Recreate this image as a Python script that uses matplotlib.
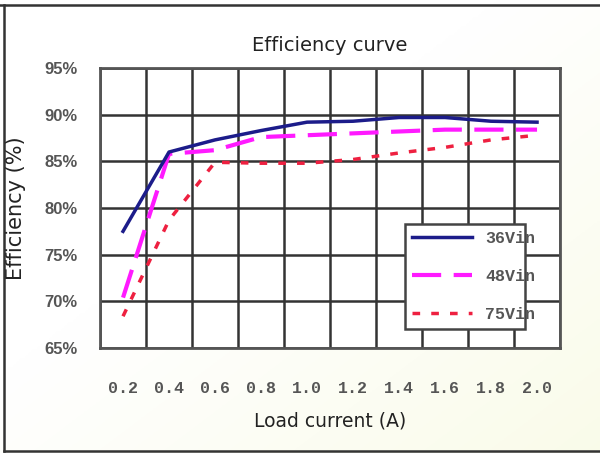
import numpy as np
import matplotlib
matplotlib.use("Agg")
import matplotlib.pyplot as plt
from matplotlib.lines import Line2D

# дані
loads = ["0.2", "0.4", "0.6", "0.8", "1.0", "1.2", "1.4", "1.6", "1.8", "2.0"]
eff_36 = [77.5, 86.0, 87.3, 88.3, 89.2, 89.3, 89.7, 89.7, 89.3, 89.2]
eff_48 = [70.4, 85.8, 86.2, 87.6, 87.8, 88.0, 88.2, 88.4, 88.4, 88.4]
eff_75 = [68.4, 78.7, 84.9, 84.8, 84.8, 85.2, 85.9, 86.5, 87.3, 87.8]
y_ticks = [65, 70, 75, 80, 85, 90, 95]
y_labels = [f"{v}%" for v in y_ticks]

fig = plt.figure(figsize=(6, 4.53), dpi=100)

# легкий жовтуватий градієнт фону (внизу праворуч)
bg = fig.add_axes([0, 0, 1, 1], zorder=-10)
gx, gy = np.meshgrid(np.linspace(0, 1, 200), np.linspace(0, 1, 150))
g = np.clip((gx * 0.6 + gy * 0.6) - 0.5, 0, 1)
col = np.ones((150, 200, 3))
col[..., 2] = 1 - 0.12 * g
col[..., 1] = 1 - 0.02 * g
col[..., 0] = 1 - 0.03 * g
bg.imshow(col, aspect="auto", extent=[0, 1, 0, 1])
bg.axis("off")

# рамка навколо
for xs, ys in [([0.0, 1.0], [0.989, 0.989]), ([0.006, 0.006], [0.004, 0.989]),
               ([0.006, 1.0], [0.004, 0.004])]:
    fig.add_artist(Line2D(xs, ys, color="#333333", lw=1.8, transform=fig.transFigure))

ax = fig.add_axes([0.1667, 0.2318, 0.7667, 0.618])
ax.set_facecolor("white")
x = np.arange(len(loads))

ax.plot(x, eff_36, color="#1c1c8a", lw=2.5, label="36Vin", zorder=5)
ax.plot(x, eff_48, color="#ff1aff", lw=3, dashes=(7, 3), label="48Vin", zorder=4)
ax.plot(x, eff_75, color="#ee2040", lw=2.5, dashes=(2.2, 3.2), label="75Vin", zorder=3)

ax.set_xlim(-0.5, len(loads) - 0.5)
ax.set_ylim(65, 95)
ax.set_xticks(x)
ax.set_xticklabels(loads, family="Liberation Mono", fontweight="bold",
                   fontsize=12, color="#555555")
ax.set_xticks(np.arange(-0.5, len(loads)), minor=True)
ax.set_yticks(y_ticks)
ax.set_yticklabels(y_labels, family="Liberation Sans", fontweight="bold",
                   fontsize=12, color="#555555")
ax.tick_params(axis="x", which="major", length=0, pad=24)
ax.tick_params(axis="x", which="minor", length=0)
ax.tick_params(axis="y", length=0, pad=16)
ax.grid(True, which="minor", axis="x", color="#333333", lw=1.8)
ax.grid(True, which="major", axis="y", color="#333333", lw=1.8)
for s in ax.spines.values():
    s.set_color("#555555")
    s.set_linewidth(2)

ax.set_title("Efficiency curve", fontsize=14, color="#222222", pad=12)
ax.set_xlabel("Load current (A)", fontsize=13.5, color="#222222", labelpad=11)
ax.set_ylabel("Efficiency (%)", fontsize=15, color="#222222", labelpad=13)

leg = ax.legend(loc="lower left", bbox_to_anchor=(0.663, 0.068, 0.261, 0.4),
                mode="expand", fancybox=False, framealpha=1, edgecolor="#444444",
                handlelength=3.6, labelspacing=1.4, borderaxespad=0,
                prop={"family": "Liberation Mono", "size": 12, "weight": "bold"})
leg.get_frame().set_linewidth(1.8)
for t in leg.get_texts():
    t.set_color("#555555")

fig.savefig("out.png", dpi=100)
